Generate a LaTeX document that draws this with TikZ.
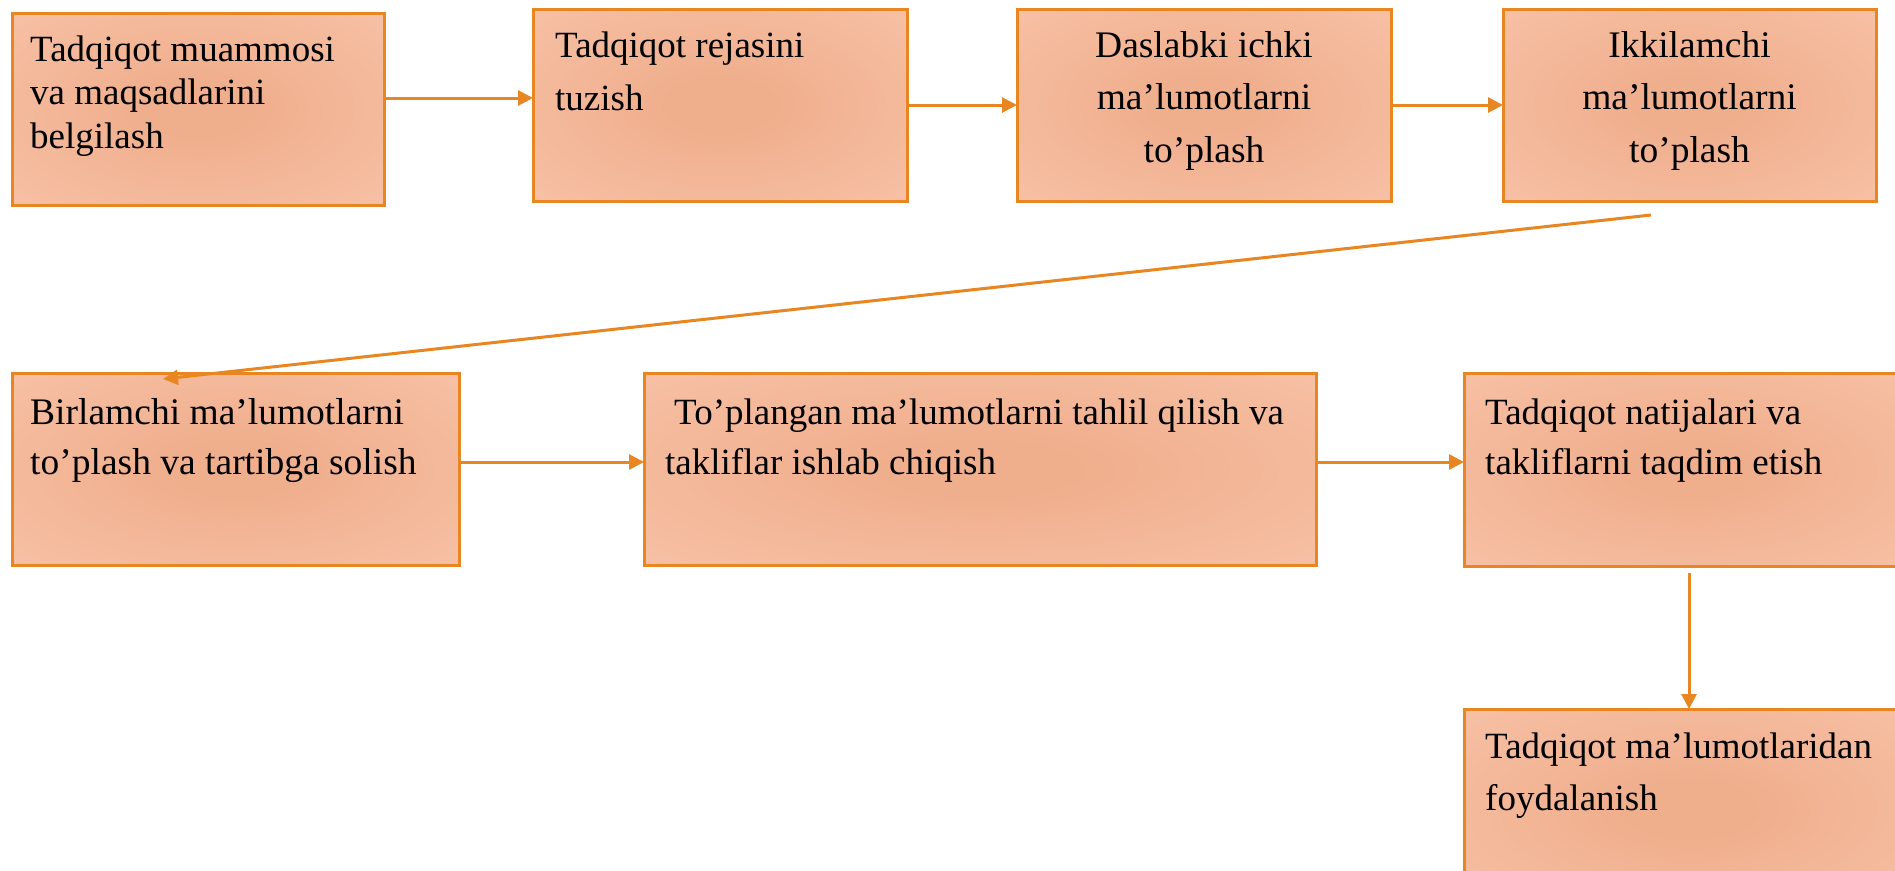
\documentclass[tikz,border=0pt]{standalone}
\usepackage{fontspec}
\setmainfont{Liberation Serif}
\usetikzlibrary{arrows.meta}
\definecolor{boxin}{RGB}{239,174,140}
\definecolor{boxout}{RGB}{249,196,170}
\definecolor{edgeor}{RGB}{232,134,34}
\pgfdeclareradialshading{boxshade}{\pgfpoint{0bp}{0bp}}{color(0bp)=(boxin); color(6bp)=(boxin); color(42bp)=(boxout); color(60bp)=(boxout)}
\begin{document}
\begin{tikzpicture}[x=1pt,y=-1pt,
  stepbox/.style={draw=edgeor, line width=3pt, shade, shading=boxshade, anchor=north west, inner sep=0pt, outer sep=0pt},
  txtl/.style={inner sep=0pt, anchor=base west},
  txtc/.style={inner sep=0pt, anchor=base},
  conn/.style={draw=edgeor, line width=3pt, -{Triangle[length=15pt,width=15pt]}}]
\useasboundingbox (0,0) rectangle (1895,870);
\clip (0,0) rectangle (1895,870);
% boxes
\node[stepbox, minimum width=372pt, minimum height=192pt] (b1) at (12,13) {};
\node[stepbox, minimum width=374pt, minimum height=192pt] (b2) at (533,9) {};
\node[stepbox, minimum width=374pt, minimum height=192pt] (b3) at (1017,9) {};
\node[stepbox, minimum width=373pt, minimum height=192pt] (b4) at (1503,9) {};
\node[stepbox, minimum width=447pt, minimum height=192pt] (b5) at (12,373) {};
\node[stepbox, minimum width=672pt, minimum height=192pt] (b6) at (644,373) {};
\node[stepbox, minimum width=450pt, minimum height=193pt] (b7) at (1464,373) {};
\node[stepbox, minimum width=450pt, minimum height=200pt] (b8) at (1464,709) {};
% texts
\node[txtl, font=\fontsize{37pt}{43.5pt}\selectfont] (t1) at ([shift={(18,48)}]b1.north west)
  {\parbox[t]{360pt}{\raggedright Tadqiqot muammosi\\va maqsadlarini\\belgilash}};
\node[txtl, font=\fontsize{37pt}{53pt}\selectfont] (t2) at ([shift={(22,48)}]b2.north west)
  {\parbox[t]{360pt}{\raggedright Tadqiqot rejasini\\tuzish}};
\node[txtc, font=\fontsize{37.5pt}{52.5pt}\selectfont] (t3) at ([shift={(0,48)}]b3.north)
  {\parbox[t]{360pt}{\centering Daslabki ichki\\ma’lumotlarni\\to’plash}};
\node[txtc, font=\fontsize{37.5pt}{52.5pt}\selectfont] (t4) at ([shift={(0,48)}]b4.north)
  {\parbox[t]{360pt}{\centering Ikkilamchi\\ma’lumotlarni\\to’plash}};
\node[txtl, font=\fontsize{37.5pt}{50pt}\selectfont] (t5) at ([shift={(18,51)}]b5.north west)
  {\parbox[t]{430pt}{\raggedright Birlamchi ma’lumotlarni\\to’plash va tartibga solish}};
\node[txtl, font=\fontsize{37pt}{50pt}\selectfont] (t6) at ([shift={(21,51)}]b6.north west)
  {\parbox[t]{650pt}{\raggedright \hspace*{9pt}To’plangan ma’lumotlarni tahlil qilish va\\takliflar ishlab chiqish}};
\node[txtl, font=\fontsize{37pt}{50pt}\selectfont] (t7) at ([shift={(21,51)}]b7.north west)
  {\parbox[t]{420pt}{\raggedright Tadqiqot natijalari va\\takliflarni taqdim etish}};
\node[txtl, font=\fontsize{37pt}{52pt}\selectfont] (t8) at ([shift={(21,49)}]b8.north west)
  {\parbox[t]{420pt}{\raggedright Tadqiqot ma’lumotlaridan\\foydalanish}};
% connectors
\coordinate (d1) at ([shift={(-38.5,14)}]b4.south);
\coordinate (v1) at ([shift={(225,7)}]b7.south west);
\draw[conn] (b1.east |- 0,98) -- (b2.west |- 0,98);
\draw[conn] (b2.east) -- (b3.west);
\draw[conn] (b3.east) -- (b4.west);
\draw[conn] (d1) -- ([shift={(-72.5,6)}]b5.north);
\draw[conn] (b5.east |- 0,462) -- (b6.west |- 0,462);
\draw[conn] (b6.east |- 0,462) -- (b7.west |- 0,462);
\draw[conn] (v1) -- (v1 |- b8.north);
\end{tikzpicture}
\end{document}
